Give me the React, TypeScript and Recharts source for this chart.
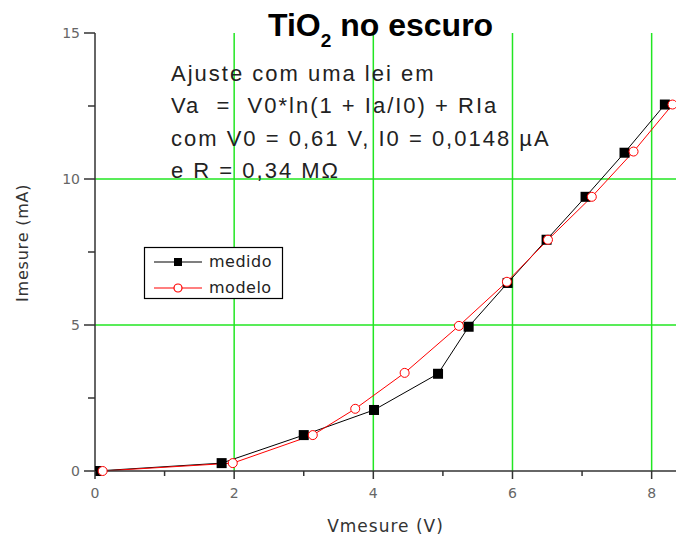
import { ComposedChart, Line, XAxis, YAxis, ReferenceLine } from "recharts";

// measured points (V, mA)
const medidoV = [0.02, 1.82, 3.0, 4.01, 4.93, 5.37, 5.93, 6.49, 7.05, 7.61, 8.19];
const medidoI = [0, 0.27, 1.23, 2.09, 3.33, 4.94, 6.44, 7.92, 9.39, 10.9, 12.55];

// model points
const modeloV = [0.11, 1.98, 3.13, 3.74, 4.45, 5.23, 5.92, 6.51, 7.14, 7.74, 8.3];
const modeloI = [0, 0.27, 1.23, 2.13, 3.36, 4.97, 6.48, 7.92, 9.39, 10.94, 12.55];

const xTicks = [0, 1, 2, 3, 4, 5, 6, 7, 8];
const yTicks = [0, 2.5, 5, 7.5, 10, 12.5, 15];
const xGrid = [2, 4, 6, 8];
const yGrid = [5, 10];

const annotation = [
  "Ajuste com uma lei em",
  "Va  =  V0*ln(1 + Ia/I0) + RIa",
  "com V0 = 0,61 V, I0 = 0,0148 \u00b5A",
  "e R = 0,34 M\u03a9",
];

const medido = medidoV.map((x, i) => ({ x, y: medidoI[i] }));
const modelo = modeloV.map((x, i) => ({ x, y: modeloI[i] }));

const GREEN = "#22e622";
const AXIS = "#333";
const TICK_FONT = "DejaVu Sans, Verdana, sans-serif";

const XTick = ({ x, y, payload }: any) => {
  const major = payload.value % 2 === 0;
  return (
    <g>
      <line x1={x} x2={x} y1={y} y2={y + (major ? 8 : 5)} stroke={AXIS} strokeWidth={1.5} />
      {major && (
        <text x={x} y={y + 27} textAnchor="middle" fontSize={14} fill="#666" fontFamily={TICK_FONT}>
          {payload.value}
        </text>
      )}
    </g>
  );
};

const YTick = ({ x, y, payload }: any) => {
  const major = payload.value % 5 === 0;
  return (
    <g>
      <line x1={x} x2={x - (major ? 11 : 7)} y1={y} y2={y} stroke={AXIS} strokeWidth={1.5} />
      {major && (
        <text x={x - 15} y={y + 5} textAnchor="end" fontSize={14} fill="#666" fontFamily={TICK_FONT}>
          {payload.value}
        </text>
      )}
    </g>
  );
};

const SquareDot = ({ cx, cy }: any) => {
  if (cx == null || cy == null) return null;
  return <rect x={cx - 5} y={cy - 5} width={10} height={10} fill="#000" />;
};

export default function App() {
  return (
    <div style={{ position: "absolute", left: 0, top: 0, width: 676, height: 538, background: "#fff" }}>
      <ComposedChart width={676} height={538} margin={{ top: 33, right: 0, bottom: 0, left: 0 }}>
        <XAxis
          type="number"
          dataKey="x"
          domain={[0, 8.35]}
          ticks={xTicks}
          allowDataOverflow
          height={67}
          tickSize={0}
          tickMargin={0}
          tickLine={false}
          tick={<XTick />}
          axisLine={{ stroke: AXIS, strokeWidth: 1.5 }}
          label={{
            value: "Vmesure (V)",
            position: "insideBottom",
            offset: 6,
            fill: "#333",
            fontSize: 17,
            fontFamily: TICK_FONT,
            letterSpacing: 1,
          }}
        />
        <YAxis
          type="number"
          dataKey="y"
          domain={[0, 15]}
          ticks={yTicks}
          width={95}
          tickSize={0}
          tickMargin={0}
          tickLine={false}
          tick={<YTick />}
          axisLine={{ stroke: AXIS, strokeWidth: 1.5 }}
          label={{
            value: "Imesure (mA)",
            angle: -90,
            position: "insideLeft",
            offset: 22,
            fill: "#333",
            fontSize: 16,
            fontFamily: TICK_FONT,
            letterSpacing: 0.8,
            dy: 50,
          }}
        />
        {xGrid.map((v) => (
          <ReferenceLine key={`gx${v}`} x={v} stroke={GREEN} strokeWidth={1.5} />
        ))}
        {yGrid.map((v) => (
          <ReferenceLine key={`gy${v}`} y={v} stroke={GREEN} strokeWidth={1.5} />
        ))}
        <Line
          data={medido}
          dataKey="y"
          type="linear"
          stroke="#000"
          strokeWidth={1}
          dot={<SquareDot />}
          isAnimationActive={false}
        />
        <Line
          data={modelo}
          dataKey="y"
          type="linear"
          stroke="#ff0000"
          strokeWidth={1}
          dot={{ r: 4.5, fill: "#fff", stroke: "#ff0000", strokeWidth: 1 }}
          isAnimationActive={false}
        />
      </ComposedChart>

      <svg
        width={676}
        height={538}
        style={{ position: "absolute", left: 0, top: 0, pointerEvents: "none" }}
      >
        <text x={268} y={36} fontSize={32} fontWeight="bold" fill="#000" fontFamily="Liberation Sans, Arial, sans-serif">
          TiO
          <tspan fontSize={19} dy={11}>2</tspan>
          <tspan fontSize={32} dy={-11}> no escuro</tspan>
        </text>
        {annotation.map((line, i) => (
          <text
            key={i}
            x={171}
            y={81 + i * 32.3}
            fontSize={22}
            letterSpacing={2}
            fill="#222"
            fontFamily="Liberation Sans, Arial, sans-serif"
            style={{ whiteSpace: "pre" }}
          >
            {line}
          </text>
        ))}
        <rect x={144.5} y={247.5} width={138} height={51} fill="#fff" stroke="#000" strokeWidth={1.2} />
        <line x1={154} x2={202} y1={262} y2={262} stroke="#000" strokeWidth={1.2} />
        <rect x={174} y={258} width={8} height={8} fill="#000" />
        <text x={209} y={267} fontSize={16} letterSpacing={0.5} fill="#222" fontFamily={TICK_FONT}>
          medido
        </text>
        <line x1={154} x2={202} y1={288} y2={288} stroke="#ff0000" strokeWidth={1.2} />
        <circle cx={178} cy={288} r={4} fill="#fff" stroke="#ff0000" strokeWidth={1.2} />
        <text x={209} y={293} fontSize={16} letterSpacing={0.5} fill="#222" fontFamily={TICK_FONT}>
          modelo
        </text>
      </svg>
    </div>
  );
}
